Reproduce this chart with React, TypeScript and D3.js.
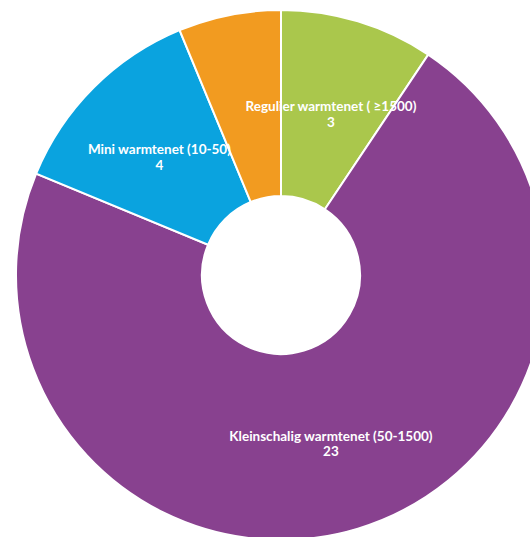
import React from "react";
import * as d3 from "d3";

const categories = [
  "Regulier warmtenet ( ≥1500)",
  "Kleinschalig warmtenet (50-1500)",
  "Mini warmtenet (10-50)",
  "Overig",
];
const values = [3, 23, 4, 2];
const colors = ["#AAC74C", "#88418F", "#0AA3DF", "#F29B20"];
const showLabel = [true, true, true, false];

const W = 530;
const H = 537;
const CX = 281;
const CY = 275;
const R_OUT = 265;
const R_IN = 79;

export default function App() {
  const pie = d3
    .pie<number>()
    .sort(null)
    .value((d) => d)
    .startAngle(0)
    .endAngle(2 * Math.PI);
  const arcs = pie(values);
  const arc = d3
    .arc<d3.PieArcDatum<number>>()
    .innerRadius(R_IN)
    .outerRadius(R_OUT);

  return (
    <svg
      width={W}
      height={H}
      style={{ position: "absolute", left: 0, top: 0, background: "#fff" }}
    >
      <g transform={`translate(${CX},${CY})`}>
        {arcs.map((a, i) => (
          <path
            key={i}
            d={arc(a) || ""}
            fill={colors[i]}
            stroke="#fff"
            strokeWidth={2}
          />
        ))}
        {arcs.map((a, i) => {
          if (!showLabel[i]) return null;
          const [x, y] = arc.centroid(a);
          return (
            <text
              key={"t" + i}
              x={x}
              y={y}
              textAnchor="middle"
              fill="#fff"
              fontFamily="Lato, 'Noto Sans', sans-serif"
              fontWeight="bold"
              fontSize={13.5}
            >
              <tspan x={x} dy={1}>
                {categories[i]}
              </tspan>
              <tspan x={x} dy={15.5}>
                {values[i]}
              </tspan>
            </text>
          );
        })}
      </g>
    </svg>
  );
}
